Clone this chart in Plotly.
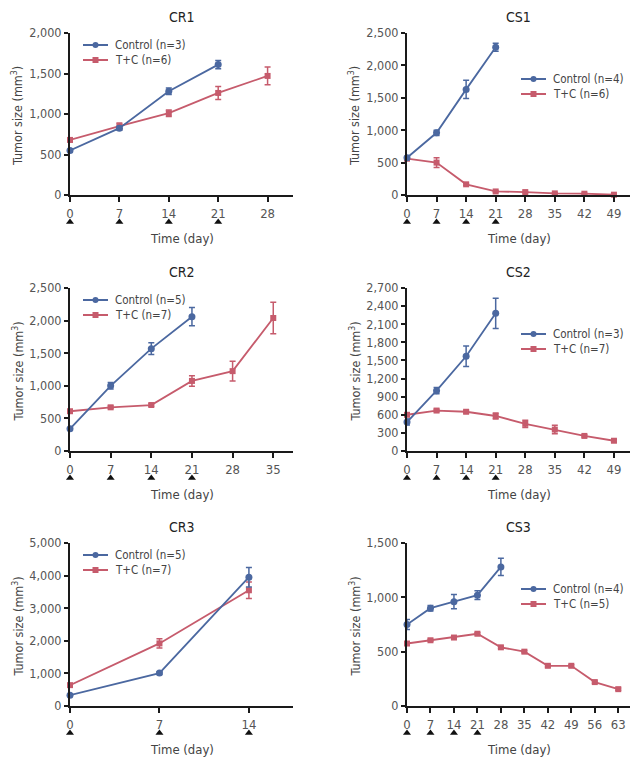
import plotly.graph_objects as go

# ---------------- data ----------------
titles = ["CR1", "CS1", "CR2", "CS2", "CR3", "CS3"]
ctrl_names = ["Control (n=3)", "Control (n=4)", "Control (n=5)", "Control (n=3)", "Control (n=5)", "Control (n=4)"]
tc_names = ["T+C (n=6)", "T+C (n=6)", "T+C (n=7)", "T+C (n=7)", "T+C (n=7)", "T+C (n=5)"]

# CR1
cr1_ctrl_days = [0, 7, 14, 21]
cr1_ctrl = [550, 825, 1280, 1610]
cr1_ctrl_err = [20, 25, 40, 50]
cr1_tc_days = [0, 7, 14, 21, 28]
cr1_tc = [680, 850, 1010, 1260, 1470]
cr1_tc_err = [25, 40, 40, 80, 110]
cr1_dose = [0, 7, 14, 21]
cr1_xticks = [0, 7, 14, 21, 28]
cr1_yticks = [0, 500, 1000, 1500, 2000]

# CS1
cs1_ctrl_days = [0, 7, 14, 21]
cs1_ctrl = [575, 960, 1630, 2280]
cs1_ctrl_err = [30, 40, 140, 60]
cs1_tc_days = [0, 7, 14, 21, 28, 35, 42, 49]
cs1_tc = [560, 500, 165, 55, 45, 25, 20, 5]
cs1_tc_err = [20, 75, 15, 10, 10, 8, 8, 5]
cs1_dose = [0, 7, 14, 21]
cs1_xticks = [0, 7, 14, 21, 28, 35, 42, 49]
cs1_yticks = [0, 500, 1000, 1500, 2000, 2500]

# CR2
cr2_ctrl_days = [0, 7, 14, 21]
cr2_ctrl = [340, 1000, 1570, 2060]
cr2_ctrl_err = [20, 50, 90, 140]
cr2_tc_days = [0, 7, 14, 21, 28, 35]
cr2_tc = [610, 670, 705, 1075, 1225, 2040]
cr2_tc_err = [20, 20, 20, 80, 150, 240]
cr2_dose = [0, 7, 14, 21]
cr2_xticks = [0, 7, 14, 21, 28, 35]
cr2_yticks = [0, 500, 1000, 1500, 2000, 2500]

# CS2
cs2_ctrl_days = [0, 7, 14, 21]
cs2_ctrl = [480, 1000, 1570, 2280]
cs2_ctrl_err = [50, 50, 170, 250]
cs2_tc_days = [0, 7, 14, 21, 28, 35, 42, 49]
cs2_tc = [600, 670, 650, 580, 450, 355, 250, 170]
cs2_tc_err = [20, 20, 20, 50, 60, 70, 20, 20]
cs2_dose = [0, 7, 14, 21]
cs2_xticks = [0, 7, 14, 21, 28, 35, 42, 49]
cs2_yticks = [0, 300, 600, 900, 1200, 1500, 1800, 2100, 2400, 2700]

# CR3
cr3_ctrl_days = [0, 7, 14]
cr3_ctrl = [330, 1010, 3950]
cr3_ctrl_err = [30, 40, 300]
cr3_tc_days = [0, 7, 14]
cr3_tc = [640, 1920, 3550]
cr3_tc_err = [40, 140, 250]
cr3_dose = [0, 7, 14]
cr3_xticks = [0, 7, 14]
cr3_yticks = [0, 1000, 2000, 3000, 4000, 5000]

# CS3
cs3_ctrl_days = [0, 7, 14, 21, 28]
cs3_ctrl = [750, 900, 960, 1020, 1280]
cs3_ctrl_err = [45, 25, 65, 40, 80]
cs3_tc_days = [0, 7, 14, 21, 28, 35, 42, 49, 56, 63]
cs3_tc = [575, 605, 630, 665, 540, 500, 370, 370, 220, 155]
cs3_tc_err = [10, 10, 10, 10, 10, 10, 10, 10, 10, 10]
cs3_dose = [0, 7, 14, 21]
cs3_xticks = [0, 7, 14, 21, 28, 35, 42, 49, 56, 63]
cs3_yticks = [0, 500, 1000, 1500]

x_ranges = [31.6, 52.8, 38.4, 52.8, 17.45, 66.5]

panels = [
    (cr1_ctrl_days, cr1_ctrl, cr1_ctrl_err, cr1_tc_days, cr1_tc, cr1_tc_err, cr1_dose, cr1_xticks, cr1_yticks),
    (cs1_ctrl_days, cs1_ctrl, cs1_ctrl_err, cs1_tc_days, cs1_tc, cs1_tc_err, cs1_dose, cs1_xticks, cs1_yticks),
    (cr2_ctrl_days, cr2_ctrl, cr2_ctrl_err, cr2_tc_days, cr2_tc, cr2_tc_err, cr2_dose, cr2_xticks, cr2_yticks),
    (cs2_ctrl_days, cs2_ctrl, cs2_ctrl_err, cs2_tc_days, cs2_tc, cs2_tc_err, cs2_dose, cs2_xticks, cs2_yticks),
    (cr3_ctrl_days, cr3_ctrl, cr3_ctrl_err, cr3_tc_days, cr3_tc, cr3_tc_err, cr3_dose, cr3_xticks, cr3_yticks),
    (cs3_ctrl_days, cs3_ctrl, cs3_ctrl_err, cs3_tc_days, cs3_tc, cs3_tc_err, cs3_dose, cs3_xticks, cs3_yticks),
]

# ---------------- styling / layout ----------------
PAGE_W, PAGE_H = 643, 765
OFF = 8  # default page body margin around the figure
W, H = PAGE_W - 2 * OFF, PAGE_H - 2 * OFF
BLUE = "#4b68a0"
RED = "#c65b6c"
FONT = "DejaVu Sans Condensed, Liberation Sans Narrow, Arial Narrow, sans-serif"
TICK_COLOR = "#555555"
TEXT_COLOR = "#444444"
AXIS_COLOR = "#1a1a1a"

# pixel boxes (in page pixels) of each plot area
col_px = [(70, 293), (407, 630)]
row_px = [(33, 195), (288, 451), (543, 706)]


def fx(p):
    return (p - OFF) / W


def fy(p):
    return 1 - (p - OFF) / H


fig = go.Figure()
layout = dict(
    template="none",
    width=W, height=H,
    margin=dict(l=0, r=0, t=0, b=0, autoexpand=False),
    paper_bgcolor="white", plot_bgcolor="white",
    font=dict(family=FONT, size=13, color=TICK_COLOR),
    showlegend=False,
    hovermode="closest",
)
annotations = []
shapes = []

for i, (cd, cv, ce, td, tv, te, dose, xt, yt) in enumerate(panels):
    n = i + 1
    r, c = divmod(i, 2)
    x0, x1 = col_px[c]
    y0, y1 = row_px[r]
    xa = "x" if n == 1 else f"x{n}"
    ya = "y" if n == 1 else f"y{n}"
    ya_dose = f"y{n + 6}"

    # T+C first (drawn underneath), Control on top
    fig.add_trace(go.Scatter(
        x=td, y=tv, name=tc_names[i], mode="lines+markers",
        line=dict(color=RED, width=1.8),
        marker=dict(symbol="square", size=6, color=RED),
        error_y=dict(type="data", array=te, color=RED, thickness=1.5, width=3),
        xaxis=xa, yaxis=ya, cliponaxis=False,
    ))
    fig.add_trace(go.Scatter(
        x=cd, y=cv, name=ctrl_names[i], mode="lines+markers",
        line=dict(color=BLUE, width=1.8),
        marker=dict(symbol="circle", size=7, color=BLUE),
        error_y=dict(type="data", array=ce, color=BLUE, thickness=1.5, width=3),
        xaxis=xa, yaxis=ya, cliponaxis=False,
    ))
    # dosing triangles on a thin hidden axis row under the tick labels
    fig.add_trace(go.Scatter(
        x=dose, y=[0] * len(dose), mode="markers", name="dose",
        marker=dict(symbol="triangle-up", size=7, color="#111111"),
        xaxis=xa, yaxis=ya_dose, cliponaxis=False, hoverinfo="skip", showlegend=False,
    ))

    xkey = "xaxis" if n == 1 else f"xaxis{n}"
    ykey = "yaxis" if n == 1 else f"yaxis{n}"
    layout[xkey] = dict(
        domain=[fx(x0), fx(x1)], anchor=ya, range=[0, x_ranges[i]],
        tickmode="array", tickvals=xt, ticktext=[str(v) for v in xt],
        ticks="outside", ticklen=5, tickwidth=1.5, tickcolor=AXIS_COLOR,
        showline=True, linecolor=AXIS_COLOR, linewidth=2,
        showgrid=False, zeroline=False, fixedrange=True, automargin=False,
        tickfont=dict(size=13, color=TICK_COLOR, family=FONT),
    )
    layout[ykey] = dict(
        domain=[fy(y1), fy(y0)], anchor=xa, range=[0, yt[-1]],
        tickmode="array", tickvals=yt, ticktext=[f"{v:,}" for v in yt],
        ticks="outside", ticklen=4, tickwidth=1.5, tickcolor=AXIS_COLOR,
        showline=True, linecolor=AXIS_COLOR, linewidth=2,
        showgrid=False, zeroline=False, fixedrange=True, automargin=False,
        tickfont=dict(size=12.5, color=TICK_COLOR, family=FONT),
    )
    tri_c = y1 + 27
    layout[f"yaxis{n + 6}"] = dict(
        domain=[fy(tri_c + 5), fy(tri_c - 5)], anchor=xa, range=[-1, 1],
        visible=False, fixedrange=True, automargin=False,
    )

    # hand-drawn legend (two rows: Control, T+C)
    if c == 0:
        lx, ly = 83, y0 + 12
    else:
        lx, ly = 521, y0 + 46
    for k, (name, color, sym) in enumerate([(ctrl_names[i], BLUE, "circle"), (tc_names[i], RED, "rect")]):
        yy = ly + 15 * k
        shapes.append(dict(type="line", xref="paper", yref="paper",
                           x0=fx(lx), x1=fx(lx + 25), y0=fy(yy), y1=fy(yy),
                           line=dict(color=color, width=2)))
        shapes.append(dict(type=sym, xref="paper", yref="paper",
                           x0=fx(lx + 9.5), x1=fx(lx + 15.5), y0=fy(yy - 3), y1=fy(yy + 3),
                           line=dict(color=color, width=0), fillcolor=color))
        annotations.append(dict(
            text=name, x=fx(lx + 30), y=fy(yy), xref="paper", yref="paper",
            xanchor="left", yanchor="middle", showarrow=False,
            font=dict(size=11.5, color=TEXT_COLOR, family=FONT),
        ))

    # subplot title
    annotations.append(dict(
        text=titles[i], x=fx((x0 + x1) / 2), y=fy(y0 - 16), xref="paper", yref="paper",
        xanchor="center", yanchor="middle", showarrow=False,
        font=dict(size=14, color="#222222", family=FONT),
    ))
    # x-axis title
    annotations.append(dict(
        text="Time (day)", x=fx((x0 + x1) / 2), y=fy(y1 + 43), xref="paper", yref="paper",
        xanchor="center", yanchor="middle", showarrow=False,
        font=dict(size=13, color=TEXT_COLOR, family=FONT),
    ))
    # y-axis title
    annotations.append(dict(
        text="Tumor size (mm<sup>3</sup>)", x=fx(x0 - 53), y=fy((y0 + y1) / 2 + 2),
        xref="paper", yref="paper", xanchor="center", yanchor="middle",
        textangle=-90, showarrow=False,
        font=dict(size=12.5, color=TEXT_COLOR, family=FONT),
    ))

layout["annotations"] = annotations
layout["shapes"] = shapes
fig.update_layout(**layout)
fig.write_html("out.html")
